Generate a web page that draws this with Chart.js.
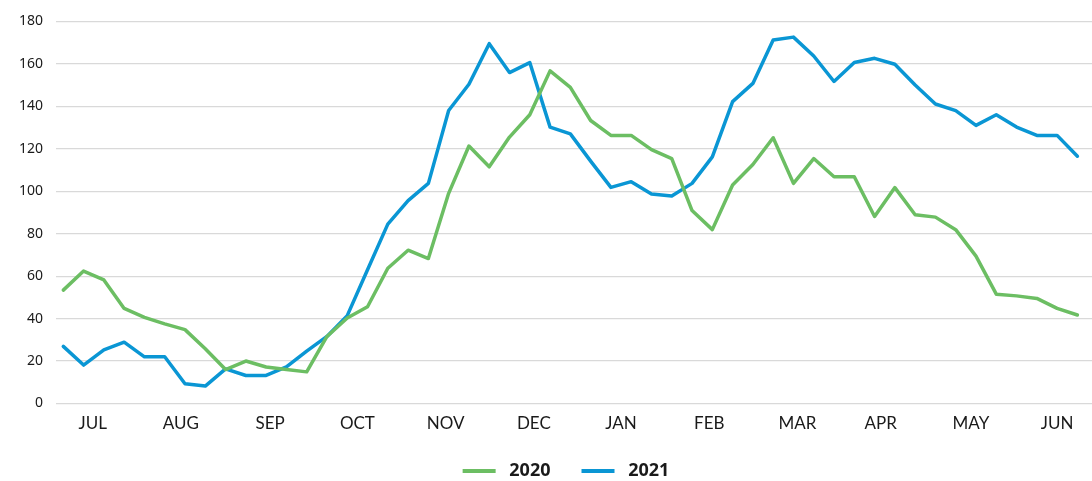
<!DOCTYPE html>
<html>
<head>
<meta charset="utf-8">
<script src="https://cdn.jsdelivr.net/npm/chart.js@4.4.1/dist/chart.umd.min.js"></script>
<style>
  html, body { margin: 0; padding: 0; background: #ffffff; }
  #wrap { width: 1092px; height: 481px; }
</style>
</head>
<body>
<div id="wrap"><canvas id="c" width="1092" height="481"></canvas></div>
<script>
// ---- data ----
const seriesNames = ['2020', '2021'];
const monthLabels = ['JUL', 'AUG', 'SEP', 'OCT', 'NOV', 'DEC', 'JAN', 'FEB', 'MAR', 'APR', 'MAY', 'JUN'];
// week index at which each month label is centred
const monthTickAt = [1.45, 5.8, 10.2, 14.5, 18.85, 23.2, 27.5, 31.85, 36.2, 40.3, 44.75, 49.0];
const yTicks = [0, 20, 40, 60, 80, 100, 120, 140, 160, 180];

const values2020 = [53.4, 62.4, 58.2, 44.8, 40.6, 37.5, 34.8, 25.8, 16, 20, 17.2, 16, 14.9, 31.6, 40.3,
  45.6, 63.7, 72.2, 68.3, 99, 121.3, 111.5, 125.5, 136, 156.7, 148.9, 133.3, 126.3, 126.3, 119.6,
  115.4, 90.9, 81.9, 102.9, 112.6, 125.2, 103.7, 115.4, 106.8, 106.8, 88.1, 101.7, 88.9, 87.8,
  81.9, 69.4, 51.5, 50.7, 49.5, 44.8, 41.7];
const values2021 = [26.9, 18.1, 25.3, 28.9, 22, 22, 9.3, 8.2, 16.3, 13.2, 13.2, 17.2, 24.7, 31.6, 41.4,
  63, 84.5, 95.6, 103.7, 138, 150.4, 169.5, 155.9, 160.6, 130.2, 127, 114.2, 101.8, 104.5, 98.7,
  97.8, 103.7, 116.2, 142.2, 150.8, 171.2, 172.6, 163.7, 151.7, 160.6, 162.6, 159.8, 150, 141.1,
  138, 131, 136, 130.2, 126.3, 126.3, 116.5];

const GREEN = '#6CBE63';
const BLUE = '#0A96D4';
const FONT = "'Noto Sans', 'Open Sans', sans-serif";
const XFONT = "Lato, 'Noto Sans', sans-serif";

const toPoints = arr => arr.map((v, i) => ({ x: i, y: v }));

const legendShift = {
  id: 'legendShift',
  afterLayout(chart) {
    if (chart.legend) { chart.legend.left += 20; chart.legend.right += 20; }
  }
};

new Chart(document.getElementById('c'), {
  type: 'line',
  data: {
    datasets: [
      { label: seriesNames[0], data: toPoints(values2020), borderColor: GREEN, backgroundColor: GREEN,
        borderWidth: 3.5, pointRadius: 0, tension: 0, borderJoinStyle: 'round', borderCapStyle: 'round' },
      { label: seriesNames[1], data: toPoints(values2021), borderColor: BLUE, backgroundColor: BLUE,
        borderWidth: 3.5, pointRadius: 0, tension: 0, borderJoinStyle: 'round', borderCapStyle: 'round' }
    ]
  },
  options: {
    responsive: false,
    animation: false,
    events: [],
    layout: { padding: { top: 18, left: 0, right: 0, bottom: -9 } },
    plugins: {
      tooltip: { enabled: false },
      legend: {
        position: 'bottom',
        labels: {
          boxWidth: 33,
          boxHeight: 4,
          padding: 31,
          color: '#1a1a1a',
          font: { family: FONT, size: 18, weight: 'bold' },
          generateLabels(chart) {
            return chart.data.datasets.map((ds, i) => ({
              text: ' ' + ds.label,
              fillStyle: ds.borderColor,
              strokeStyle: ds.borderColor,
              lineWidth: 0,
              fontColor: '#1a1a1a',
              hidden: false,
              datasetIndex: i
            }));
          }
        }
      }
    },
    scales: {
      x: {
        type: 'linear',
        min: -0.36,
        max: 50.72,
        grid: { display: false, drawTicks: false },
        border: { display: false },
        afterFit(axis) { axis.height = 27.5; },
        afterBuildTicks(axis) { axis.ticks = monthTickAt.map(v => ({ value: v })); },
        ticks: {
          autoSkip: false,
          maxRotation: 0,
          padding: 10,
          color: '#1a1a1a',
          font: { family: XFONT, size: 17 },
          callback: (v, i) => monthLabels[i]
        }
      },
      y: {
        min: 0,
        max: 180,
        afterFit(axis) { axis.width = 56; },
        afterBuildTicks(axis) { axis.ticks = yTicks.map(v => ({ value: v })); },
        grid: { color: '#d9d9d9', lineWidth: 1.2, drawTicks: false },
        border: { display: false },
        ticks: {
          padding: 13,
          color: '#1a1a1a',
          font: { family: FONT, size: 14 },
          callback: v => String(v)
        }
      }
    }
  },
  plugins: [legendShift]
});
</script>
</body>
</html>
